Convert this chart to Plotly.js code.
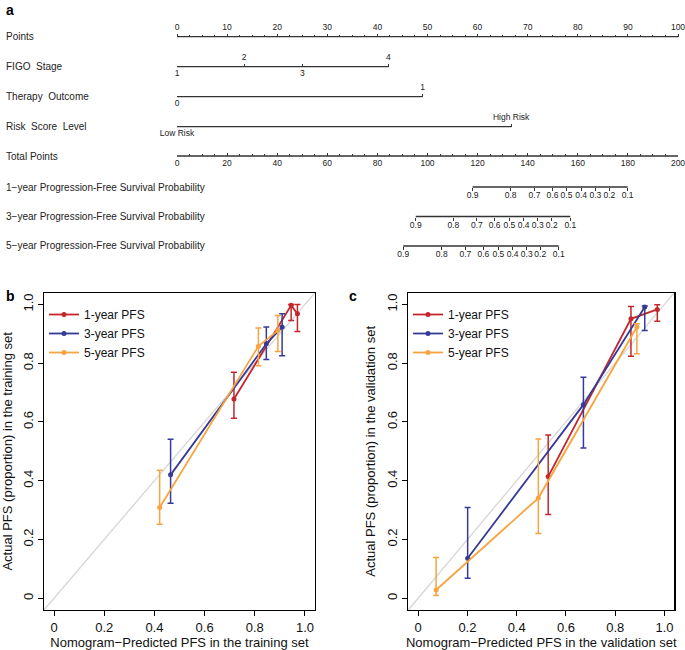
<!DOCTYPE html>
<html><head><meta charset="utf-8">
<script src="https://cdn.plot.ly/plotly-3.0.1.min.js"></script>
<style>html,body{margin:0;padding:0;background:#fff}</style>
</head><body><div id="chart" style="width:685px;height:650px"></div>
<script>
// ---------- Nomogram data (panel a) ----------
const pointsTicks = [0,10,20,30,40,50,60,70,80,90,100];
const figoLevels = ['1','2','3','4'];
const figoPoints = [0, 13.4, 25.0, 42.2];
const therapyLevels = ['0','1'];
const therapyPoints = [0, 49.0];
const riskLevels = ['Low Risk','High Risk'];
const riskPoints = [0, 66.7];
const totalTicks = [0,20,40,60,80,100,120,140,160,180,200];
const survProbs = ['0.9','0.8','0.7','0.6','0.5','0.4','0.3','0.2','0.1'];
const pfs1Total = [118.0,133.2,142.7,149.9,155.5,161.3,167.0,172.6,179.9];
const pfs3Total = [95.3,110.3,119.7,126.8,132.7,138.4,144.0,149.6,157.0];
const pfs5Total = [90.3,105.7,115.1,122.3,128.3,134.0,139.6,145.0,152.4];
const rowLabels = ['Points','FIGO\u00a0\u00a0Stage','Therapy\u00a0\u00a0Outcome','Risk\u00a0\u00a0Score\u00a0\u00a0Level','Total Points',
  '1\u2212year Progression-Free Survival Probability','3\u2212year Progression-Free Survival Probability','5\u2212year Progression-Free Survival Probability'];

// ---------- Calibration data (panels b, c) ----------
const seriesNames = ['1-year PFS','3-year PFS','5-year PFS'];
const calTicks = [0,0.2,0.4,0.6,0.8,1.0];
const calTickText = ['0','0.2','0.4','0.6','0.8','1.0'];
// training set
const pred1Train = [0.717,0.945,0.970], obs1Train = [0.678,0.997,0.968], lo1Train = [0.613,0.945,0.908], hi1Train = [0.769,1.0,1.0];
const pred3Train = [0.4645,0.846,0.909], obs3Train = [0.420,0.866,0.923], lo3Train = [0.323,0.8125,0.825], hi3Train = [0.541,0.923,0.968];
const pred5Train = [0.421,0.8145,0.892], obs5Train = [0.309,0.858,0.911], lo5Train = [0.252,0.791,0.840], hi5Train = [0.436,0.920,0.9625];
// validation set
const pred1Val = [0.528,0.864,0.971], obs1Val = [0.414,0.951,0.983], lo1Val = [0.285,0.824,0.943], hi1Val = [0.556,0.993,0.999];
const pred3Val = [0.201,0.671,0.920], obs3Val = [0.136,0.659,0.991], lo3Val = [0.068,0.511,0.911], hi3Val = [0.309,0.752,0.995];
const pred5Val = [0.073,0.488,0.888], obs5Val = [0.028,0.341,0.923], lo5Val = [0.009,0.220,0.832], hi5Val = [0.139,0.542,0.934];

// ---------- styling / layout ----------
const W = 685, H = 650;
const xf = p => p / W, yf = p => 1 - p / H;
const SANS = 'Liberation Sans, Arial, sans-serif';
const NARROW = 'Liberation Sans Narrow, Arial Narrow, Liberation Sans, Arial, sans-serif';
const colors = ['#C1272D', '#373A97', '#F7A440'];
const nomoDom = [xf(177), xf(678)];
const traces = [];
const layout = {
  width: W, height: H, margin: {l:0, r:0, t:0, b:0},
  paper_bgcolor: '#fff', plot_bgcolor: 'rgba(0,0,0,0)',
  font: {family: SANS, color: '#111'},
  annotations: [], shapes: []
};

let axId = 3, topId = 40;
function addRow(py, range, lineX, specs) {
  const id = axId++;
  layout['yaxis' + id] = {domain: [yf(py) - 0.012, yf(py) + 0.012], range: [-1, 1], visible: false, fixedrange: true};
  specs.forEach((s, k) => {
    const xid = k === 0 ? id : topId++;
    const ax = {
      domain: nomoDom, range: range, anchor: 'free', position: yf(py), side: s.side,
      showline: false, showgrid: false, zeroline: false, fixedrange: true,
      tickmode: 'array', tickvals: s.vals, ticktext: s.text, tickangle: 0, ticklabeloverflow: 'allow',
      ticks: s.ticks, ticklen: 3, tickwidth: 1, tickcolor: '#333',
      tickfont: {family: NARROW, size: 8.5, color: '#222'}
    };
    if (s.standoff) ax.ticklabelstandoff = s.standoff;
    if (s.minor) ax.minor = {dtick: s.minor, tick0: 0, ticks: s.ticks, ticklen: 2, tickwidth: 1, tickcolor: '#333'};
    if (k > 0) ax.overlaying = 'x' + id;
    layout['xaxis' + xid] = ax;
    traces.push({
      x: lineX, y: lineX.map(() => 0), xaxis: 'x' + xid, yaxis: 'y' + id,
      mode: 'lines', line: {color: '#333', width: k === 0 ? 1.3 : 0.01},
      hoverinfo: 'skip', showlegend: false
    });
  });
}
const even = a => a.filter((_, i) => i % 2 === 0), odd = a => a.filter((_, i) => i % 2 === 1);
const rowPy = [36.7, 66.7, 96.7, 126.7, 156, 187, 216.5, 246];

addRow(rowPy[0], [0,100], pointsTicks, [{side:'top', ticks:'outside', vals: pointsTicks, text: pointsTicks.map(String), minor: 2.5}]);
addRow(rowPy[1], [0,100], figoPoints, [
  {side:'bottom', ticks:'inside', vals: even(figoPoints), text: even(figoLevels)},
  {side:'top', ticks:'outside', vals: odd(figoPoints), text: odd(figoLevels)}]);
addRow(rowPy[2], [0,100], therapyPoints, [
  {side:'bottom', ticks:'inside', vals: even(therapyPoints), text: even(therapyLevels)},
  {side:'top', ticks:'outside', vals: odd(therapyPoints), text: odd(therapyLevels)}]);
addRow(rowPy[3], [0,100], riskPoints, [
  {side:'bottom', ticks:'inside', vals: even(riskPoints), text: even(riskLevels)},
  {side:'top', ticks:'outside', vals: odd(riskPoints), text: odd(riskLevels)}]);
addRow(rowPy[4], [0,200], totalTicks, [{side:'bottom', ticks:'inside', vals: totalTicks, text: totalTicks.map(String), minor: 5}]);
addRow(rowPy[5], [0,200], pfs1Total, [{side:'bottom', ticks:'outside', vals: pfs1Total, text: survProbs, standoff: -3}]);
addRow(rowPy[6], [0,200], pfs3Total, [{side:'bottom', ticks:'outside', vals: pfs3Total, text: survProbs, standoff: -3}]);
addRow(rowPy[7], [0,200], pfs5Total, [{side:'bottom', ticks:'outside', vals: pfs5Total, text: survProbs, standoff: -3}]);

rowLabels.forEach((t, i) => layout.annotations.push({
  text: t, xref: 'paper', yref: 'paper', x: xf(4), y: yf(rowPy[i]), xanchor: 'left', yanchor: 'middle',
  showarrow: false, font: {family: SANS, size: 10, color: '#222'}
}));

// panel letters
[['a', 10, 10], ['b', 10, 296], ['c', 353, 296]].forEach(([t, x, y]) => layout.annotations.push({
  text: '<b>' + t + '</b>', xref: 'paper', yref: 'paper', x: xf(x), y: yf(y), xanchor: 'center', yanchor: 'middle',
  showarrow: false, font: {family: SANS, size: 14, color: '#000'}
}));

// ---------- calibration panels ----------
function calAxes() {
  return {
    range: [-0.04, 1.04], showline: true, mirror: true, linecolor: '#000', linewidth: 1.2,
    ticks: 'outside', ticklen: 5, tickwidth: 1, tickcolor: '#000', showgrid: false, zeroline: false,
    tickmode: 'array', tickvals: calTicks, ticktext: calTickText, fixedrange: true,
    tickfont: {family: SANS, size: 13, color: '#111'}
  };
}
const calYDom = [yf(610), yf(292.7)];
layout.xaxis = Object.assign(calAxes(), {domain: [xf(44), xf(315)], anchor: 'y',
  title: {text: 'Nomogram\u2212Predicted PFS in the training set', font: {family: SANS, size: 13, color: '#111'}, standoff: 8}});
layout.yaxis = Object.assign(calAxes(), {domain: calYDom, anchor: 'x', tickangle: -90,
  title: {text: 'Actual PFS (proportion) in the training set', font: {family: SANS, size: 13, color: '#111'}, standoff: 6}});
layout.xaxis2 = Object.assign(calAxes(), {domain: [xf(408.3), xf(674.3)], anchor: 'y2',
  title: {text: 'Nomogram\u2212Predicted PFS in the validation set', font: {family: SANS, size: 13, color: '#111'}, standoff: 8}});
layout.yaxis2 = Object.assign(calAxes(), {domain: calYDom, anchor: 'x2', tickangle: -90,
  title: {text: 'Actual PFS (proportion) in the validation set', font: {family: SANS, size: 13, color: '#111'}, standoff: 6}});

// diagonal reference lines
['', '2'].forEach(s => layout.shapes.push({
  type: 'line', xref: 'x' + s + ' domain', yref: 'y' + s + ' domain', x0: 0, y0: 0, x1: 1, y1: 1,
  line: {color: '#d6d6d6', width: 1.3}, layer: 'below'
}));

function calTrace(i, pred, obs, lo, hi, xa, ya, leg) {
  return {
    x: pred, y: obs, xaxis: xa, yaxis: ya, name: seriesNames[i], legend: leg,
    mode: 'lines+markers', line: {color: colors[i], width: 1.8}, marker: {color: colors[i], size: 5},
    error_y: {type: 'data', symmetric: false, array: hi.map((h, k) => h - obs[k]), arrayminus: lo.map((l, k) => obs[k] - l),
      color: colors[i], thickness: 1.5, width: 3},
    hoverinfo: 'x+y'
  };
}
traces.push(calTrace(0, pred1Train, obs1Train, lo1Train, hi1Train, 'x', 'y', 'legend'));
traces.push(calTrace(1, pred3Train, obs3Train, lo3Train, hi3Train, 'x', 'y', 'legend'));
traces.push(calTrace(2, pred5Train, obs5Train, lo5Train, hi5Train, 'x', 'y', 'legend'));
traces.push(calTrace(0, pred1Val, obs1Val, lo1Val, hi1Val, 'x2', 'y2', 'legend2'));
traces.push(calTrace(1, pred3Val, obs3Val, lo3Val, hi3Val, 'x2', 'y2', 'legend2'));
traces.push(calTrace(2, pred5Val, obs5Val, lo5Val, hi5Val, 'x2', 'y2', 'legend2'));

const legStyle = {xanchor: 'left', yanchor: 'top', bgcolor: 'rgba(0,0,0,0)', borderwidth: 0,
  font: {family: SANS, size: 12, color: '#111'}, tracegroupgap: 0, traceorder: 'normal'};
layout.legend = Object.assign({x: xf(44), y: yf(300)}, legStyle);
layout.legend2 = Object.assign({x: xf(408), y: yf(300)}, legStyle);

Plotly.newPlot('chart', traces, layout, {staticPlot: true, displayModeBar: false});
</script></body></html>
